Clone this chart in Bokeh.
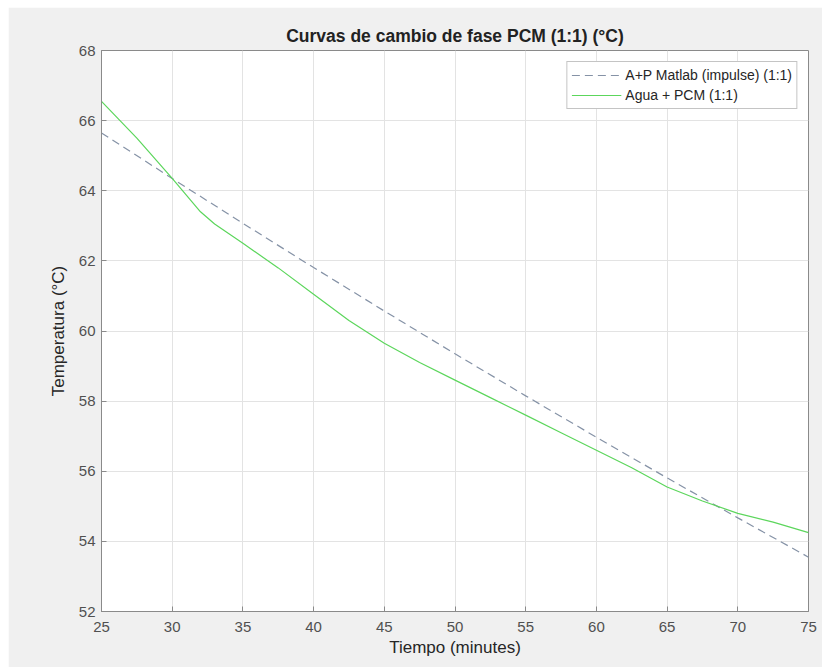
from bokeh.plotting import figure
from bokeh.models import Range1d, FixedTicker, Legend, LegendItem
from bokeh.embed import file_html
from bokeh.resources import INLINE

# Data
t_model = [25, 30, 35, 40, 45, 50, 55, 60, 65, 70, 75]
temp_model = [65.65, 64.35, 63.07, 61.81, 60.57, 59.35, 58.15, 56.97, 55.81, 54.67, 53.55]

t_meas = [25, 27.5, 30, 32, 33, 35, 37.5, 40, 42.5, 45, 47.5, 50, 52.5, 55,
          57.5, 60, 62.5, 65, 67.5, 70, 72.5, 75]
temp_meas = [66.55, 65.5, 64.35, 63.4, 63.05, 62.5, 61.8, 61.05, 60.3, 59.65,
             59.1, 58.6, 58.1, 57.6, 57.1, 56.6, 56.1, 55.55, 55.15, 54.8, 54.55, 54.25]

x_ticks = [25, 30, 35, 40, 45, 50, 55, 60, 65, 70, 75]
y_ticks = [52, 54, 56, 58, 60, 62, 64, 66, 68]

title_text = "Curvas de cambio de fase PCM (1:1) (°C)"
x_label = "Tiempo (minutes)"
y_label = "Temperatura (°C)"
label_model = "A+P Matlab (impulse) (1:1)"
label_meas = "Agua + PCM (1:1)"

FONT = "Liberation Sans"
AX = "#8a8a8a"

p = figure(width=814, height=660, margin=(7, 0, 0, 8),
           x_range=Range1d(25, 75), y_range=Range1d(52, 68),
           output_backend="svg", toolbar_location=None,
           min_border_left=93, min_border_right=14, min_border_top=43, min_border_bottom=56,
           background_fill_color="white", border_fill_color="#f0f0f0")

p.title.text = title_text
p.title.align = "center"
p.title.text_font = FONT
p.title.text_font_size = "17.5px"
p.title.text_font_style = "bold"
p.title.text_color = "#222222"
p.title.standoff = 9

p.outline_line_color = AX
p.outline_line_width = 1

for ax, ticks in ((p.xaxis[0], x_ticks), (p.yaxis[0], y_ticks)):
    ax.ticker = FixedTicker(ticks=ticks)
    ax.major_tick_in = 5
    ax.major_tick_out = 0
    ax.minor_tick_line_color = None
    ax.axis_line_color = AX
    ax.major_tick_line_color = AX
    ax.major_label_text_font = FONT
    ax.major_label_text_font_size = "15px"
    ax.major_label_text_color = "#505050"
    ax.axis_label_text_font = FONT
    ax.axis_label_text_font_size = "17px"
    ax.axis_label_text_font_style = "normal"
    ax.axis_label_text_color = "#262626"

p.xaxis[0].axis_label = x_label
p.yaxis[0].axis_label = y_label
p.xaxis[0].major_label_standoff = 10
p.yaxis[0].major_label_standoff = 6
p.xaxis[0].axis_label_standoff = 3
p.yaxis[0].axis_label_standoff = 8

p.xgrid.ticker = FixedTicker(ticks=x_ticks)
p.ygrid.ticker = FixedTicker(ticks=y_ticks)
p.grid.grid_line_color = "#e3e3e3"
p.grid.grid_line_width = 1

r1 = p.line(t_model, temp_model, line_color="#8592a6", line_width=1.2, line_dash="8 5")
r2 = p.line(t_meas, temp_meas, line_color="#5cd65c", line_width=1.2)

legend = Legend(items=[LegendItem(label=label_model, renderers=[r1]),
                       LegendItem(label=label_meas, renderers=[r2])],
                location="top_right")
legend.margin = 11
legend.padding = 4
legend.spacing = 2
legend.label_height = 18
legend.glyph_height = 18
legend.glyph_width = 50
legend.label_standoff = 4
legend.label_text_font = FONT
legend.label_text_font_size = "14px"
legend.label_text_color = "#262626"
legend.border_line_color = "#8a8a8a"
legend.border_line_width = 1
legend.background_fill_color = "white"
legend.background_fill_alpha = 1
p.add_layout(legend, "center")

open("out.html", "w").write(file_html(p, INLINE))
